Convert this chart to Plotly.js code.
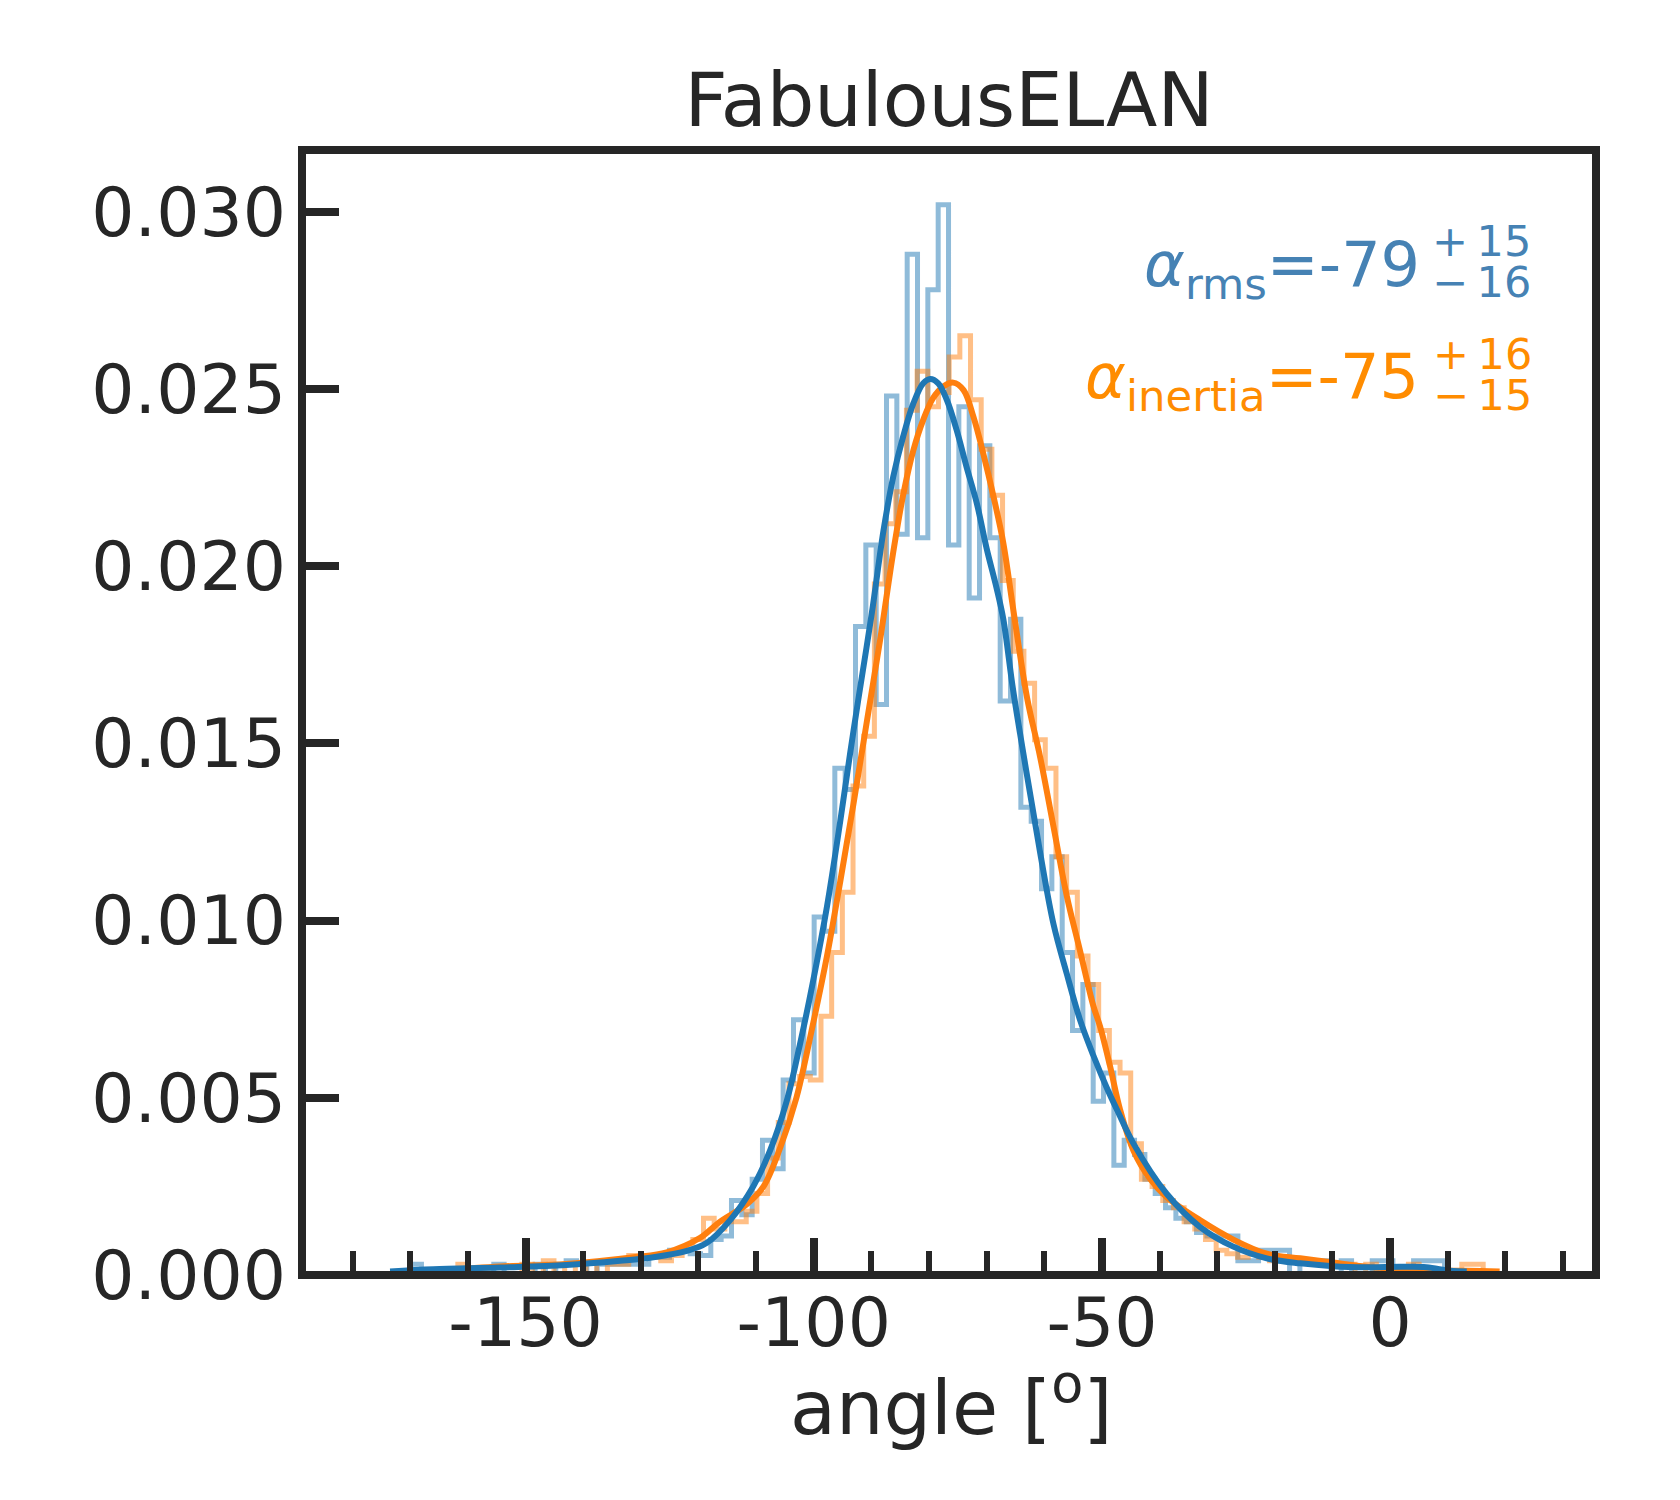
<!DOCTYPE html>
<html><head><meta charset="utf-8">
<script src="https://cdn.plot.ly/plotly-3.0.1.min.js"></script>
<style>html,body{margin:0;padding:0;background:#fff;} #chart{width:1680px;height:1500px;}</style>
</head><body><div id="chart"></div>
<script>
// ---- data ----
const blueBinStart = -169.85;
const blueBinWidth = 1.793;
const blueHist = [
 0.0003,0,0,0,0,0,0,0,0.0003,0,
 0,0,0.0003,0,0.0003,0.0004,0.0003,0,0.0003,0.0003,
 0.0003,0.0003,0.0003,0.0005,0.0005,0.0007,0.0007,0.0006,0.00055,0.0010,
 0.0011,0.0021,0.0017,0.0027,0.0038,0.0030,0.0055,0.0072,0.0057,0.0101,
 0.0097,0.0143,0.0137,0.0183,0.0206,0.0161,0.0248,0.0209,0.0288,0.0208,
 0.0278,0.0302,0.0206,0.0245,0.0191,0.0234,0.0208,0.0162,0.0185,0.0132,
 0.0128,0.0109,0.0118,0.0091,0.0069,0.0082,0.0049,0.0057,0.0031,0.0038,
 0.0034,0.0027,0.0023,0.0019,0.0016,0.0015,0.0012,0.0011,0.0011,0.0011,
 0.0004,0.0004,0.0007,0.0007,0.0007,0,0.0004,0.0004,0.0004,0,
 0.0004,0,0,0.0004,0.0004,0,0,0.0004,0.0004,0.0004
];
const orangeBinStart = -167.3;
const orangeBinWidth = 1.853;
const orangeHist = [
 0,0,0,0.0003,0,0,0,0,0,0.0003,
 0,0.0004,0,0.0003,0,0.00036,0,0.0003,0.0003,0.00055,
 0.0005,0.0005,0.0004,0.00055,0.00073,0.0010,0.0016,0.0013,0.0015,0.0015,
 0.0018,0.0023,0.0033,0.0043,0.0054,0.0056,0.0055,0.0073,0.0091,0.0108,
 0.0138,0.0152,0.0195,0.0212,0.0221,0.0244,0.0255,0.0245,0.0249,0.0259,
 0.0265,0.0247,0.0233,0.0220,0.0196,0.0176,0.0167,0.0151,0.0143,0.0118,
 0.0108,0.0090,0.0082,0.0069,0.0060,0.0057,0.0037,0.0027,0.0025,0.0021,
 0.0019,0.0015,0.0013,0.0010,0.0007,0.0006,0.0005,0.0006,0.0005,0.0004,
 0.0004,0.0004,0.0004,0.0003,0.0003,0.0003,0.0003,0,0.0003,0,
 0,0,0.0003,0,0,0,0,0.0003,0.0003,0
];
const blueKdeX = [-173.5,-166,-154.4,-142.9,-133.6,-127.8,-122.0,-118.6,-114.5,-110.5,-107.6,-104.7,-102.4,-100.1,-97.7,-95.4,-93.7,-92.3,-89.9,-87.9,-86.2,-84.5,-82.7,-81.0,-79.8,-78.4,-76.9,-75.2,-73.5,-71.7,-70.0,-68.3,-67.1,-65.4,-63.0,-60.7,-58.4,-56.1,-53.8,-51.5,-49.2,-47.2,-44.5,-38.8,-33.0,-27.2,-21.4,-15.6,-9.9,-4.1,1.7,6.3,10.4,13.3];
const blueKdeY = [0.0001,0.00016,0.00021,0.00028,0.0004,0.0005,0.00068,0.0009,0.00155,0.0025,0.0035,0.0049,0.0065,0.0083,0.0104,0.0128,0.0147,0.0162,0.0187,0.0210,0.02253,0.02365,0.0246,0.02516,0.02528,0.02516,0.02469,0.02384,0.02281,0.02177,0.0205,0.0194,0.0185,0.0165,0.0141,0.0119,0.0099,0.0085,0.0072,0.0062,0.0053,0.0046,0.0037,0.0023,0.00136,0.0008,0.00047,0.00033,0.00025,0.00022,0.00023,0.00022,0.00012,0.0001];
const orangeKdeX = [-165,-154.4,-142.9,-131.3,-125.5,-119.7,-116.3,-111.6,-108.7,-105.8,-103.0,-100.1,-97.7,-95.4,-93.1,-90.8,-88.5,-86.2,-84.5,-82.7,-81.0,-79.3,-77.5,-75.8,-74.0,-72.3,-70.6,-68.8,-67.1,-65.4,-63.0,-60.7,-58.4,-56.1,-53.8,-51.5,-50.3,-48.6,-46.9,-44.5,-41.6,-38.8,-33.0,-27.2,-21.4,-15.6,-9.9,-4.1,1.7,7.5,13.3,19.0];
const orangeKdeY = [0.00012,0.00024,0.00031,0.0005,0.00064,0.00105,0.0015,0.0020,0.0025,0.0036,0.0050,0.0071,0.0090,0.0111,0.0133,0.0156,0.0179,0.0204,0.0220,0.02328,0.02413,0.02474,0.02507,0.02518,0.02497,0.02422,0.02319,0.02196,0.02065,0.0188,0.0163,0.0146,0.01265,0.0107,0.00915,0.0076,0.0070,0.0059,0.0047,0.0035,0.0027,0.0022,0.00155,0.001,0.0006,0.00047,0.00035,0.00023,0.00016,0.00012,0.00012,0.0001];

const xTickVals = [-150,-100,-50,0];
const xTickText = ['-150','-100','-50','0'];
const xMinorVals = [-180,-170,-160,-140,-130,-120,-110,-90,-80,-70,-60,-40,-30,-20,-10,10,20,30];
const yTickVals = [0,0.005,0.010,0.015,0.020,0.025,0.030];
const yTickText = ['0.000','0.005','0.010','0.015','0.020','0.025','0.030'];

const titleText = 'FabulousELAN';
const xLabel = 'angle [<sup>o</sup>]';
const rmsLabel = '<i>α</i><sub>rms</sub>=-79';
const rmsUp = '+\u200915', rmsDown = '\u2212\u200916';
const inertiaLabel = '<i>α</i><sub>inertia</sub>=-75';
const inertiaUp = '+\u200916', inertiaDown = '\u2212\u200915';

// ---- build step outlines from bins ----
function stepXY(start, width, h) {
  const xs = [start], ys = [0];
  for (let i = 0; i < h.length; i++) { xs.push(start + i * width); ys.push(h[i]); }
  xs.push(start + h.length * width); ys.push(0);
  return [xs, ys];
}
const [bx, by] = stepXY(blueBinStart, blueBinWidth, blueHist);
const [ox, oy] = stepXY(orangeBinStart, orangeBinWidth, orangeHist);

const C0 = '#1f77b4', C1 = '#ff7f0e', INK = '#262626';
const FONT = 'DejaVu Sans';

const traces = [
  {x: bx, y: by, type: 'scatter', mode: 'lines', line: {shape: 'hv', color: 'rgba(31,119,180,0.5)', width: 5}, hoverinfo: 'skip'},
  {x: ox, y: oy, type: 'scatter', mode: 'lines', line: {shape: 'hv', color: 'rgba(255,127,14,0.5)', width: 5}, hoverinfo: 'skip'},
  {x: orangeKdeX, y: orangeKdeY, type: 'scatter', mode: 'lines', line: {shape: 'spline', smoothing: 1, color: C1, width: 6}, hoverinfo: 'skip'},
  {x: blueKdeX, y: blueKdeY, type: 'scatter', mode: 'lines', line: {shape: 'spline', smoothing: 1, color: C0, width: 6}, hoverinfo: 'skip'}
];

const L = 302, R = 1596, T = 150, B = 1275;
const W = R - L, H = B - T;
const px = v => (v - L) / W;
const py = v => (B - v) / H;

const layout = {
  width: 1680, height: 1500,
  margin: {l: L, r: 1680 - R, t: T, b: 1500 - B, pad: 0},
  paper_bgcolor: '#fff', plot_bgcolor: '#fff',
  showlegend: false,
  title: {text: titleText, font: {family: FONT, size: 75, color: INK}, x: 0.5, xref: 'paper', xanchor: 'center', y: 1 - 100 / 1500, yref: 'container', yanchor: 'middle'},
  xaxis: {
    range: [-188.78, 35.72], showline: false, showgrid: false, zeroline: false,
    ticks: 'inside', ticklen: 37, tickwidth: 8, tickcolor: INK,
    tickmode: 'array', tickvals: xTickVals, ticktext: xTickText,
    tickfont: {family: FONT, size: 68, color: INK},
    ticklabelstandoff: 2,
    minor: {tickmode: 'array', tickvals: xMinorVals, ticks: 'inside', ticklen: 24, tickwidth: 6, tickcolor: INK, showgrid: false},
    automargin: false
  },
  yaxis: {
    range: [0, 0.031744], showline: false, showgrid: false, zeroline: false,
    ticks: 'inside', ticklen: 37, tickwidth: 8, tickcolor: INK,
    tickmode: 'array', tickvals: yTickVals, ticktext: yTickText,
    tickfont: {family: FONT, size: 68, color: INK},
    ticklabelstandoff: 15,
    automargin: false
  },
  shapes: [{type: 'rect', xref: 'paper', yref: 'paper', x0: 0, x1: 1, y0: 0, y1: 1, line: {color: INK, width: 8}, fillcolor: 'rgba(0,0,0,0)', layer: 'above'}],
  annotations: [
    {text: xLabel, xref: 'paper', yref: 'paper', x: px(951), y: py(1402), xanchor: 'center', yanchor: 'middle', showarrow: false, font: {family: FONT, size: 75, color: INK}},
    {text: rmsLabel, xref: 'paper', yref: 'paper', x: px(1422), y: py(268), xanchor: 'right', yanchor: 'middle', showarrow: false, font: {family: FONT, size: 62, color: '#4682B4'}},
    {text: rmsUp, xref: 'paper', yref: 'paper', x: px(1430), y: py(241), xanchor: 'left', yanchor: 'middle', showarrow: false, font: {family: FONT, size: 43, color: '#4682B4'}},
    {text: rmsDown, xref: 'paper', yref: 'paper', x: px(1430), y: py(282), xanchor: 'left', yanchor: 'middle', showarrow: false, font: {family: FONT, size: 43, color: '#4682B4'}},
    {text: inertiaLabel, xref: 'paper', yref: 'paper', x: px(1421), y: py(380), xanchor: 'right', yanchor: 'middle', showarrow: false, font: {family: FONT, size: 62, color: '#FF8C00'}},
    {text: inertiaUp, xref: 'paper', yref: 'paper', x: px(1431), y: py(354), xanchor: 'left', yanchor: 'middle', showarrow: false, font: {family: FONT, size: 43, color: '#FF8C00'}},
    {text: inertiaDown, xref: 'paper', yref: 'paper', x: px(1431), y: py(395), xanchor: 'left', yanchor: 'middle', showarrow: false, font: {family: FONT, size: 43, color: '#FF8C00'}}
  ]
};

Plotly.newPlot('chart', traces, layout, {displayModeBar: false, staticPlot: true});
</script>
</body></html>
